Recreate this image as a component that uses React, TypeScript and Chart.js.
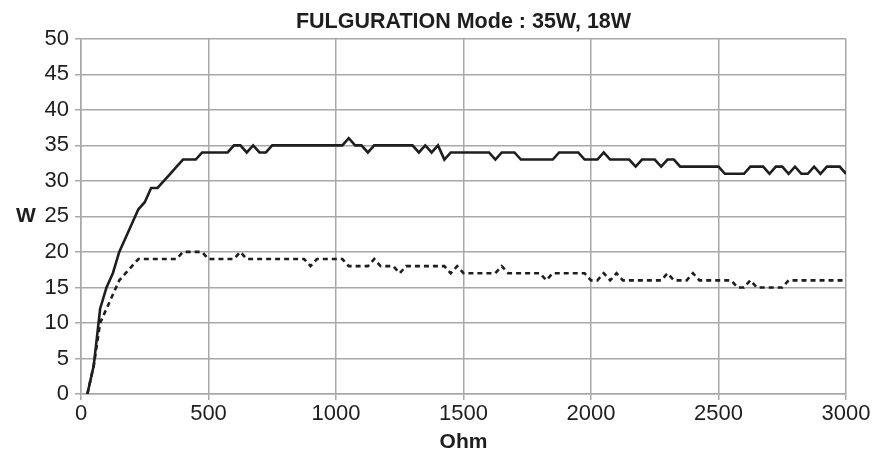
import React, { useEffect, useRef } from "react";
import { Chart, registerables } from "chart.js";

Chart.register(...registerables);

const chartTitle = "FULGURATION Mode : 35W, 18W";
const xAxisTitle = "Ohm";
const yAxisTitle = "W";

const ohmValues = [
  25, 50, 75, 100, 125, 150, 175, 200, 225, 250,
  275, 300, 325, 350, 375, 400, 425, 450, 475, 500,
  525, 550, 575, 600, 625, 650, 675, 700, 725, 750,
  775, 800, 825, 850, 875, 900, 925, 950, 975, 1000,
  1025, 1050, 1075, 1100, 1125, 1150, 1175, 1200, 1225, 1250,
  1275, 1300, 1325, 1350, 1375, 1400, 1425, 1450, 1475, 1500,
  1525, 1550, 1575, 1600, 1625, 1650, 1675, 1700, 1725, 1750,
  1775, 1800, 1825, 1850, 1875, 1900, 1925, 1950, 1975, 2000,
  2025, 2050, 2075, 2100, 2125, 2150, 2175, 2200, 2225, 2250,
  2275, 2300, 2325, 2350, 2375, 2400, 2425, 2450, 2475, 2500,
  2525, 2550, 2575, 2600, 2625, 2650, 2675, 2700, 2725, 2750,
  2775, 2800, 2825, 2850, 2875, 2900, 2925, 2950, 2975, 3000,
];

const watts35 = [
  0, 4, 12, 15, 17, 20, 22, 24, 26, 27,
  29, 29, 30, 31, 32, 33, 33, 33, 34, 34,
  34, 34, 34, 35, 35, 34, 35, 34, 34, 35,
  35, 35, 35, 35, 35, 35, 35, 35, 35, 35,
  35, 36, 35, 35, 34, 35, 35, 35, 35, 35,
  35, 35, 34, 35, 34, 35, 33, 34, 34, 34,
  34, 34, 34, 34, 33, 34, 34, 34, 33, 33,
  33, 33, 33, 33, 34, 34, 34, 34, 33, 33,
  33, 34, 33, 33, 33, 33, 32, 33, 33, 33,
  32, 33, 33, 32, 32, 32, 32, 32, 32, 32,
  31, 31, 31, 31, 32, 32, 32, 31, 32, 32,
  31, 32, 31, 31, 32, 31, 32, 32, 32, 31,
];

const watts18 = [
  0, 4, 10, 12, 14, 16, 17, 18, 19, 19,
  19, 19, 19, 19, 19, 20, 20, 20, 20, 19,
  19, 19, 19, 19, 20, 19, 19, 19, 19, 19,
  19, 19, 19, 19, 19, 18, 19, 19, 19, 19,
  19, 18, 18, 18, 18, 19, 18, 18, 18, 17,
  18, 18, 18, 18, 18, 18, 18, 17, 18, 17,
  17, 17, 17, 17, 17, 18, 17, 17, 17, 17,
  17, 17, 16, 17, 17, 17, 17, 17, 17, 16,
  16, 17, 16, 17, 16, 16, 16, 16, 16, 16,
  16, 17, 16, 16, 16, 17, 16, 16, 16, 16,
  16, 16, 15, 15, 16, 15, 15, 15, 15, 15,
  16, 16, 16, 16, 16, 16, 16, 16, 16, 16,
];

const FONT = '"Liberation Sans", Arial, Helvetica, sans-serif';
const GRID = "#a8a8a8";
const INK = "#1e1e1e";

const axisTitles = {
  id: "axisTitles",
  afterDraw(chart: any) {
    const { ctx, chartArea } = chart;
    ctx.save();
    ctx.fillStyle = INK;
    ctx.font = `bold 21px ${FONT}`;
    ctx.textAlign = "center";
    ctx.textBaseline = "middle";
    ctx.fillText(yAxisTitle, 26, (chartArea.top + chartArea.bottom) / 2);
    ctx.fillText(xAxisTitle, (chartArea.left + chartArea.right) / 2, 442);
    ctx.restore();
  },
};

export default function App() {
  const ref = useRef<HTMLCanvasElement | null>(null);
  useEffect(() => {
    if (!ref.current) return;
    const chart = new Chart(ref.current, {
      type: "line",
      data: {
        datasets: [
          {
            label: "35W",
            data: ohmValues.map((x, i) => ({ x, y: watts35[i] })),
            borderColor: INK,
            borderWidth: 2.6,
            pointRadius: 0,
            tension: 0,
          },
          {
            label: "18W",
            data: ohmValues.map((x, i) => ({ x, y: watts18[i] })),
            borderColor: INK,
            borderWidth: 2.6,
            borderDash: [5, 4],
            pointRadius: 0,
            tension: 0,
          },
        ],
      },
      options: {
        animation: false,
        responsive: false,
        devicePixelRatio: 1,
        layout: { padding: { left: 0, right: 28, top: 0, bottom: 0 } },
        plugins: {
          legend: { display: false },
          tooltip: { enabled: false },
          title: {
            display: true,
            text: chartTitle,
            fullSize: false,
            color: INK,
            font: { family: FONT, size: 21.5, weight: "bold" },
            padding: { top: 9, bottom: 4 },
          },
        },
        scales: {
          x: {
            type: "linear",
            min: 0,
            max: 3000,
            ticks: {
              stepSize: 500,
              color: INK,
              font: { family: FONT, size: 22 },
              padding: 1,
              maxRotation: 0,
              callback: (v: any) => String(v),
            },
            grid: { color: GRID, lineWidth: 1.5, tickLength: 6 },
            border: { color: GRID, width: 1.5 },
            afterFit(scale: any) {
              scale.height = 71;
            },
          },
          y: {
            min: 0,
            max: 50,
            ticks: {
              stepSize: 5,
              color: INK,
              font: { family: FONT, size: 22 },
              padding: 6,
              callback: (v: any) => String(v),
            },
            grid: { color: GRID, lineWidth: 1.5, tickLength: 6 },
            border: { color: GRID, width: 1.5 },
            afterFit(scale: any) {
              scale.width = 81;
            },
          },
        },
      },
      plugins: [axisTitles],
    });
    return () => chart.destroy();
  }, []);
  return (
    <div style={{ position: "fixed", left: 0, top: 0, width: 874, height: 465, background: "#fff" }}>
      <canvas ref={ref} width={874} height={465} />
    </div>
  );
}
